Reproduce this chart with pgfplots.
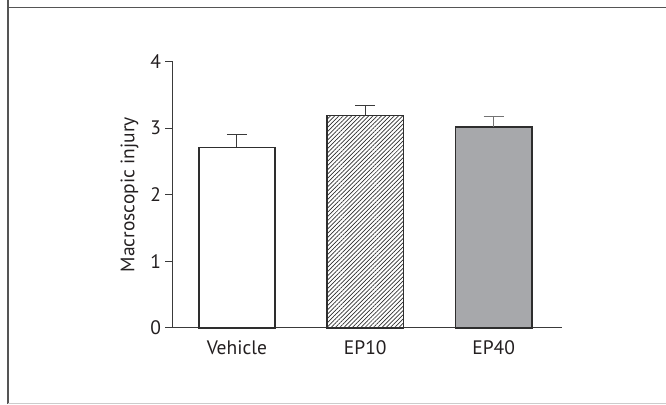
\documentclass[border=0pt]{standalone}
\usepackage{fontspec}
\setmainfont{PT Sans}
\usepackage{pgfplots}
\pgfplotsset{compat=1.18}
\usetikzlibrary{patterns.meta}
\definecolor{txt}{HTML}{231F20}
\definecolor{axc}{HTML}{3A3A3A}
\definecolor{barc}{HTML}{2E2E2E}
\definecolor{gfill}{HTML}{A7A8AB}
\definecolor{frame}{HTML}{555555}
\begin{document}
\begin{tikzpicture}[x=1pt,y=1pt]
\useasboundingbox (0,0) rectangle (666,404);
\draw[frame,line width=1.8pt] (8,404) -- (8,396.5) -- (666,396.5);
\draw[frame,line width=1.8pt] (8,396.5) -- (8,0.5);
\draw[black!20,line width=1pt] (8,0.5) -- (666,0.5);
\begin{axis}[
  at={(172pt,76pt)}, anchor=south west,
  scale only axis, width=389.6pt, height=266.5pt,
  xmin=-0.505, xmax=2.529, ymin=0, ymax=4,
  axis x line*=bottom, axis y line*=left,
  axis line style={axc,line width=1pt},
  xtick={0,1,2}, xticklabels={Vehicle,EP10,EP40},
  x tick style={draw=none},
  ytick={0,1,2,3,4},
  y tick style={axc,line width=1pt},
  tick align=outside, major tick length=7pt,
  font=\fontsize{19.5}{23}\selectfont,
  /pgf/number format/assume math mode=true,
  tick label style={txt},
  yticklabel style={xshift=-0.5pt},
  xticklabel style={yshift=-2.5pt},
  ylabel={Macroscopic injury},
  every axis y label/.style={at={(axis description cs:-0.109,0.5)},rotate=90,anchor=center,txt},
  ybar, bar width=76.4pt,
  every axis plot/.append style={bar shift=0pt},
  error bars/y dir=plus, error bars/y explicit,
  clip=false,
]
\addplot[draw=barc, fill=white, line width=1.7pt,
  error bars/error bar style={axc,line width=1.2pt},
  error bars/error mark options={axc,rotate=90,mark size=10pt,line width=1.2pt}]
  coordinates {(0,2.71) +- (0,0.19)};
\addplot[draw=barc, line width=1.7pt,
  pattern={Lines[angle=45,distance=3pt,line width=0.7pt]}, pattern color=barc,
  error bars/error bar style={axc,line width=1.2pt},
  error bars/error mark options={axc,rotate=90,mark size=10pt,line width=1.2pt}]
  coordinates {(1,3.19) +- (0,0.15)};
\addplot[draw=barc, fill=gfill, line width=1.7pt,
  error bars/error bar style={black!55,line width=1.2pt},
  error bars/error mark options={black!55,rotate=90,mark size=10pt,line width=1.2pt}]
  coordinates {(2,3.02) +- (0,0.16)};
\end{axis}
\end{tikzpicture}
\end{document}
